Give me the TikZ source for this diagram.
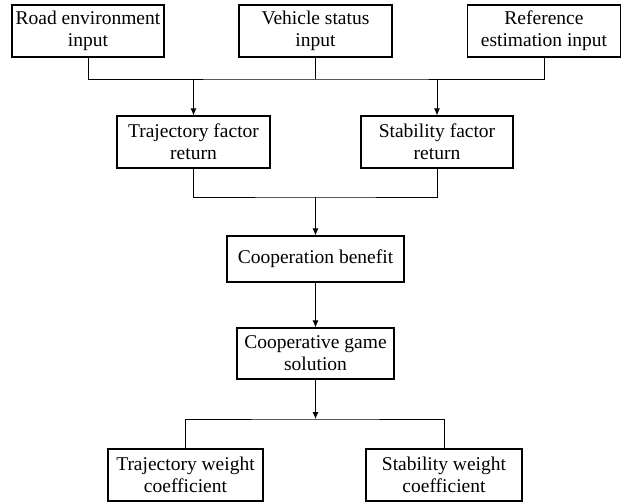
\documentclass[tikz,border=0pt]{standalone}
\usepackage{fontspec}
\setmainfont{Liberation Serif}
\usetikzlibrary{arrows.meta}

\tikzset{
	block/.style={draw, line width=1.2pt, minimum height=52pt, align=center,
		inner sep=0pt, font=\fontsize{19.5}{22}\selectfont},
	link/.style={line width=0.8pt},
	flow/.style={link, -{Latex[length=7pt,width=6pt]}}
}

\begin{document}
\begin{tikzpicture}[x=1pt, y=-1pt]
			\useasboundingbox (0, 0) rectangle (633, 503);

			% inputs
			\node[block, minimum width=152pt] (road) at (88, 31) {Road environment\\input};
			\node[block, minimum width=153pt] (vehicle) at (315.5, 31) {Vehicle status\\input};
			\node[block, minimum width=153pt] (reference) at (544, 31) {Reference\\estimation input};

			% factors
			\node[block, minimum width=153pt] (trajfac) at (193.5, 142) {Trajectory factor\\return};
			\node[block, minimum width=152pt] (stabfac) at (437, 142) {Stability factor\\return};

			% game
			\node[block, minimum width=177pt, minimum height=46pt] (benefit) at (315.5, 259) {Cooperation benefit};
			\node[block, minimum width=157pt, minimum height=51pt] (game) at (315.5, 353.5) {Cooperative game\\solution};

			% outputs
			\node[block, minimum width=155pt] (trajw) at (185.5, 475) {Trajectory weight\\coefficient};
			\node[block, minimum width=156pt] (stabw) at (444, 475) {Stability weight\\coefficient};

			\coordinate (inbus) at (315.5, 79);
			\coordinate (facbus) at (315.5, 197);
			\coordinate (outbus) at (315.5, 419);

			\draw[link] (road.south) |- (inbus) -| (reference.south);
			\draw[link] (vehicle.south) -- (inbus);
			\draw[flow] (inbus -| trajfac.north) -- (trajfac.north);
			\draw[flow] (inbus -| stabfac.north) -- (stabfac.north);

			\draw[link] (trajfac.south) |- (facbus) -| (stabfac.south);
			\draw[flow] (facbus) -- (benefit.north);
			\draw[flow] (benefit) -- (game);

			\draw[flow] (game) -- (outbus);
			\draw[link] (trajw.north) |- (outbus) -| (stabw.north);
		\end{tikzpicture}
\end{document}
